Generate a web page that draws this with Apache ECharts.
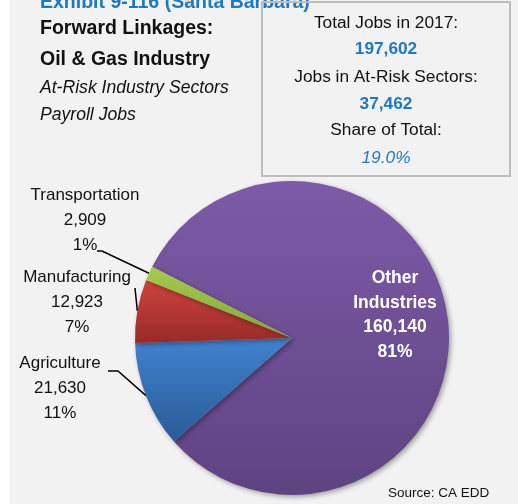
<!DOCTYPE html>
<html>
<head>
<meta charset="utf-8">
<script src="https://cdn.jsdelivr.net/npm/echarts@6/dist/echarts.min.js"></script>
<style>
html,body{margin:0;padding:0;background:#ffffff;}
#chart{width:518px;height:504px;}
</style>
</head>
<body>
<div id="chart"></div>
<script>
// ---- data ----
var categories = ['Other\nIndustries', 'Agriculture', 'Manufacturing', 'Transportation'];
var jobs = [160140, 21630, 12923, 2909];
var titleLines = ['Exhibit 9-116 (Santa Barbara)', 'Forward Linkages:', 'Oil & Gas Industry'];
var subtitleLines = ['At-Risk Industry Sectors', 'Payroll Jobs'];
var boxLabels = ['Total Jobs in 2017:', 'Jobs in At-Risk Sectors:', 'Share of Total:'];
var boxValues = ['197,602', '37,462', '19.0%'];
var sourceText = 'Source: CA EDD';

// ---- styles ----
var gradients = [
  ['#7d5ba8', '#5e4381'],
  ['#4082d0', '#2b5b97'],
  ['#cf4340', '#992a27'],
  ['#a3cc4c', '#82a63a']
];
var FONT = '"Liberation Sans", Arial, sans-serif';

function fmt(v) { return v.toString().replace(/\B(?=(\d{3})+(?!\d))/g, ','); }

var pieData = categories.map(function (c, i) {
  var item = {
    name: c,
    value: jobs[i],
    itemStyle: {
      color: {
        type: 'linear', x: 0, y: 0, x2: 0, y2: 1,
        colorStops: [{offset: 0, color: gradients[i][0]}, {offset: 1, color: gradients[i][1]}]
      }
    }
  };
  if (i === 0) {
    item.label = {
      position: 'inside', color: '#ffffff', fontWeight: 'bold', fontSize: 17.5, lineHeight: 24.5,
      formatter: function (p) { return p.name + '\n' + fmt(p.value) + '\n' + p.percent + '%'; }
    };
    item.labelLine = {show: false};
  }
  return item;
});

// label placement (center x, top y) and leader-line elbows relative to label
var labelPlace = {
  0: {x: 395, y: 266},
  1: {x: 60, y: 351, pts: [[58, 20], [48, 20]]},
  2: {x: 77, y: 265, pts: [[58, 23]]},
  3: {x: 85, y: 183, pts: [[17, 68], [12, 68]]}
};

var chart = echarts.init(document.getElementById('chart'));
var graphics = [
  {type: 'rect', shape: {x: 0, y: 0, width: 10, height: 504}, style: {fill: '#ffffff'}, z: -10},
  {type: 'text', style: {text: titleLines[0], x: 40, y: 3, font: 'bold 19.5px ' + FONT, fill: '#1f78c1', textVerticalAlign: 'middle'}},
  {type: 'text', style: {text: titleLines[1], x: 40, y: 29, font: 'bold 19.5px ' + FONT, fill: '#111111', textVerticalAlign: 'middle'}},
  {type: 'text', style: {text: titleLines[2], x: 40, y: 60, font: 'bold 19.5px ' + FONT, fill: '#111111', textVerticalAlign: 'middle'}},
  {type: 'text', style: {text: subtitleLines[0], x: 40, y: 88, font: 'italic 17.6px ' + FONT, fill: '#111111', textVerticalAlign: 'middle'}},
  {type: 'text', style: {text: subtitleLines[1], x: 40, y: 115, font: 'italic 17.6px ' + FONT, fill: '#111111', textVerticalAlign: 'middle'}},
  {type: 'rect', shape: {x: 262, y: 2, width: 248, height: 174}, style: {fill: 'none', stroke: '#bdbdbd', lineWidth: 2}},
  {type: 'text', style: {text: sourceText, x: 388, y: 493, font: '13.5px ' + FONT, fill: '#111111', textVerticalAlign: 'middle'}}
];
var boxY = [[23, 49], [77, 104], [130, 158]];
boxLabels.forEach(function (t, i) {
  graphics.push({type: 'text', style: {text: t, x: 386, y: boxY[i][0], font: '17.3px ' + FONT, fill: '#111111', textAlign: 'center', textVerticalAlign: 'middle'}});
  graphics.push({type: 'text', style: {text: boxValues[i], x: 386, y: boxY[i][1], font: (i === 2 ? 'italic 17.3px ' : 'bold 17.3px ') + FONT, fill: '#1f78c1', textAlign: 'center', textVerticalAlign: 'middle'}});
});

chart.setOption({
  backgroundColor: '#f2f2f2',
  animation: false,
  graphic: graphics,
  series: [{
    type: 'pie',
    center: [292, 338],
    radius: 157,
    startAngle: 153,
    clockwise: true,
    percentPrecision: 0,
    avoidLabelOverlap: false,
    data: pieData,
    itemStyle: {shadowBlur: 5, shadowColor: 'rgba(0,0,0,0.35)', shadowOffsetX: 2, shadowOffsetY: 2},
    emphasis: {disabled: true},
    label: {
      position: 'outside', color: '#111111', fontFamily: FONT, fontSize: 17, lineHeight: 25,
      formatter: function (p) { return p.name + '\n' + fmt(p.value) + '\n' + p.percent + '%'; }
    },
    labelLine: {show: true, lineStyle: {color: '#000000', width: 1.5}},
    labelLayout: function (params) {
      var pl = labelPlace[params.dataIndex];
      var res = {x: pl.x, y: pl.y, align: 'center', verticalAlign: 'top'};
      if (pl.pts && params.labelLinePoints) {
        var pts = [params.labelLinePoints[0]];
        pl.pts.forEach(function (o) { pts.push([pl.x + o[0], pl.y + o[1]]); });
        if (pts.length === 2) pts.push(pts[1].slice());
        res.labelLinePoints = pts;
      }
      return res;
    }
  }],
  textStyle: {fontFamily: FONT}
});
</script>
</body>
</html>
